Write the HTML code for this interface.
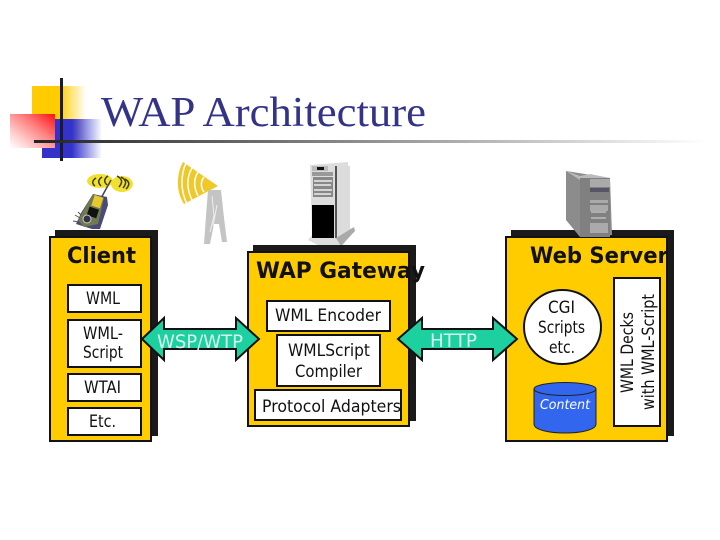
<!DOCTYPE html>
<html><head><meta charset="utf-8"><style>html,body{margin:0;padding:0;background:#fff}svg{display:block}
.t{font-family:"DejaVu Sans",sans-serif;font-size:16.5px;fill:#111;text-anchor:middle}
.b{font-family:"DejaVu Sans",sans-serif;font-weight:bold;font-size:22px;fill:#111;text-anchor:middle}
</style></head><body>
<svg xmlns="http://www.w3.org/2000/svg" width="720" height="540" viewBox="0 0 720 540">
<defs>
<linearGradient id="gy"><stop offset="0.5" stop-color="#ffcc00"/><stop offset="1" stop-color="#ffcc00" stop-opacity="0"/></linearGradient>
<linearGradient id="gb"><stop offset="0.5" stop-color="#3333cc"/><stop offset="1" stop-color="#3333cc" stop-opacity="0"/></linearGradient>
<linearGradient id="gr" x1="1" y1="0" x2="0" y2="1"><stop offset="0" stop-color="#ff1010"/><stop offset="0.4" stop-color="#ff8080"/><stop offset="0.75" stop-color="#ffd0d0"/><stop offset="1" stop-color="#ffffff"/></linearGradient>
<linearGradient id="gl"><stop offset="0" stop-color="#222"/><stop offset="0.15" stop-color="#444"/><stop offset="1" stop-color="#fff"/></linearGradient>
</defs>
<rect width="720" height="540" fill="#fff"/>
<rect x="32" y="86" width="54" height="52" fill="url(#gy)"/>
<rect x="42" y="119" width="60" height="39" fill="url(#gb)"/>
<rect x="10" y="114" width="45" height="34" fill="url(#gr)"/>
<rect x="60" y="78" width="3" height="83" fill="#1a1a2a"/>
<rect x="34" y="140" width="672" height="3" fill="url(#gl)"/>
<text x="101" y="126" font-family="'Liberation Serif',serif" font-size="42" fill="#333388" textLength="325" lengthAdjust="spacingAndGlyphs">WAP Architecture</text>

<!-- phone -->
<ellipse cx="100" cy="181" rx="13" ry="7" fill="#f2e030"/>
<ellipse cx="122" cy="184" rx="11" ry="8" fill="#f2e030"/>
<g fill="none" stroke="#3a3a20" stroke-width="1.500">
<path d="M96 178q-6 4 -1 8M102 177q-6 4 -1 9M108 176q-6 4 -1 9"/>
<path d="M117 176q8 4 2 11M121 177q8 4 2 11M125 179q7 4 1 10"/>
</g>
<line x1="100" y1="200" x2="111" y2="180" stroke="#444" stroke-width="1.500"/>
<path d="M93 194L107 197L108 205L100 229L92 229L76 224L81 213Z" fill="#4a4a78"/>
<path d="M93 194L104 198L98 224L84 227L78 220Z" fill="#6f7a50"/>
<rect x="93" y="196" width="9" height="11" fill="#e8c830" transform="rotate(18 97 201)"/>
<rect x="88" y="208" width="10" height="9" fill="#111" transform="rotate(18 93 212)"/>
<circle cx="87" cy="219" r="4" fill="#334" stroke="#ccc"/>
<path d="M73 221l6 1M75 215l5 3M78 212l3 3" stroke="#555"/>
<!-- tower -->
<path d="M218 186L183 162C176 175 176 192 184 204Z" fill="#efc82a"/>
<g fill="none" stroke="#fff" stroke-width="1.500">
<path d="M186 163C180 176 181 192 187 204M192 168C186 178 187 190 192 200M198 172C193 180 194 188 198 196M204 177C200 182 201 188 204 192"/>
</g>
<path d="M208 190L206 216L204 244H210L214 224L219 224L222 242H227L224 218L221 190Z" fill="#c4c4c4"/>
<path d="M212 196L214 216L210 232M217 205L213 226" stroke="#eee" fill="none"/>
<!-- gateway server -->
<path d="M310 165L348 162L350 228L354 231L342 246L320 246L308 240L312 235Z" fill="#ddd"/>
<rect x="336" y="166" width="14" height="68" fill="#dcdcdc"/>
<rect x="335" y="166" width="2" height="72" fill="#555"/>
<rect x="312" y="205" width="22" height="33" fill="#000"/>
<rect x="312" y="172" width="21" height="4" fill="#999"/>
<rect x="313" y="177" width="20" height="20" fill="#888"/>
<path d="M314 181H332M314 185H331M314 190H332M314 194H331" stroke="#eee" stroke-width="1.500"/>
<rect x="312" y="166" width="16" height="5" fill="#bbb"/><rect x="317" y="167" width="7" height="3" fill="#111"/>
<path d="M336 238L354 227L355 231L341 246Z" fill="#aaa"/>

<!-- client -->
<rect x="55" y="230" width="103" height="206" fill="#1a1a1a"/>
<rect x="50" y="237" width="101" height="204" fill="#ffcc00" stroke="#111" stroke-width="2"/>
<text class="b" x="101.500" y="263" textLength="69" lengthAdjust="spacingAndGlyphs">Client</text>
<g fill="#fff" stroke="#111" stroke-width="2">
<rect x="68" y="285" width="73" height="27"/><rect x="68" y="320" width="73" height="47"/><rect x="68" y="374" width="73" height="27"/><rect x="68" y="408" width="73" height="27"/>
</g>
<text class="t" x="103" y="304" textLength="34" lengthAdjust="spacingAndGlyphs">WML</text>
<text class="t" x="103" y="339" textLength="40" lengthAdjust="spacingAndGlyphs">WML-</text>
<text class="t" x="103" y="358" textLength="40" lengthAdjust="spacingAndGlyphs">Script</text>
<text class="t" x="102.500" y="393" textLength="37" lengthAdjust="spacingAndGlyphs">WTAI</text>
<text class="t" x="102.500" y="427" textLength="27" lengthAdjust="spacingAndGlyphs">Etc.</text>

<!-- gateway -->
<rect x="253" y="245" width="163" height="176" fill="#1a1a1a"/>
<rect x="248" y="252" width="161" height="174" fill="#ffcc00" stroke="#111" stroke-width="2"/>
<text class="b" x="340.500" y="278" textLength="169" lengthAdjust="spacingAndGlyphs">WAP Gateway</text>
<g fill="#fff" stroke="#111" stroke-width="2">
<rect x="267" y="301" width="123" height="30"/><rect x="277" y="335" width="103" height="51"/><rect x="255" y="390" width="146" height="30"/>
</g>
<text class="t" x="328" y="321" textLength="106" lengthAdjust="spacingAndGlyphs">WML Encoder</text>
<text class="t" x="329" y="356" textLength="82" lengthAdjust="spacingAndGlyphs">WMLScript</text>
<text class="t" x="328.500" y="377" textLength="67" lengthAdjust="spacingAndGlyphs">Compiler</text>
<text class="t" x="331.500" y="412" textLength="139" lengthAdjust="spacingAndGlyphs">Protocol Adapters</text>

<!-- server body -->
<rect x="511" y="230" width="163" height="206" fill="#1a1a1a"/>
<rect x="506" y="237" width="161" height="204" fill="#ffcc00" stroke="#111" stroke-width="2"/>
<path d="M566 171L610 178L612 235L580 237L566 220Z" fill="#8c8c8c"/>
<path d="M566 171L580 176L590 174L610 178L580 180Z" fill="#bbb"/>
<rect x="580" y="178" width="30" height="59" fill="#808080"/>
<rect x="590" y="179" width="20" height="8" fill="#aaa"/><rect x="590" y="188" width="19" height="4" fill="#556"/>
<rect x="590" y="200" width="18" height="3" fill="#aaa"/><rect x="590" y="205" width="18" height="6" fill="#aaa"/><rect x="590" y="223" width="18" height="5" fill="#aaa"/><rect x="590" y="228" width="18" height="5" fill="#aaa"/>
<path d="M591 212H606M591 218H606" stroke="#ddd"/>
<text class="b" x="599" y="263" textLength="138" lengthAdjust="spacingAndGlyphs">Web Server</text>
<ellipse cx="562.500" cy="327" rx="38.500" ry="37" fill="#fff" stroke="#111" stroke-width="2"/>
<text class="t" x="561.500" y="313" textLength="27" lengthAdjust="spacingAndGlyphs">CGI</text>
<text class="t" x="561.500" y="333" textLength="47" lengthAdjust="spacingAndGlyphs">Scripts</text>
<text class="t" x="562" y="353" textLength="26" lengthAdjust="spacingAndGlyphs">etc.</text>
<path d="M534 389V424C534 436 596 436 596 424V389Z" fill="#3366ee" stroke="#222"/>
<ellipse cx="565" cy="389" rx="31" ry="6.500" fill="#3366ee" stroke="#222"/>
<text x="565" y="409" font-family="'DejaVu Sans',sans-serif" font-size="13" font-style="italic" fill="#fff" text-anchor="middle" textLength="50" lengthAdjust="spacingAndGlyphs">Content</text>
<rect x="614" y="278" width="46" height="148" fill="#fff" stroke="#111" stroke-width="2"/>
<text class="t" transform="translate(633 352.500) rotate(-90)" textLength="81" lengthAdjust="spacingAndGlyphs">WML Decks</text>
<text class="t" transform="translate(654 352) rotate(-90)" textLength="116" lengthAdjust="spacingAndGlyphs">with WML-Script</text>

<!-- arrows -->
<path d="M142 339L164 318V329H236V318L259 339L236 360V349H164V360Z" fill="#1dd0a0" stroke="#111" stroke-width="2"/>
<text x="200" y="348" font-family="'DejaVu Sans',sans-serif" font-size="19" fill="#d8f5ee" text-anchor="middle" textLength="86" lengthAdjust="spacingAndGlyphs">WSP/WTP</text>
<path d="M398 339L422 318V329H493V318L517 339L493 360V349H422V360Z" fill="#1dd0a0" stroke="#111" stroke-width="2"/>
<text x="453.500" y="347" font-family="'DejaVu Sans',sans-serif" font-size="19" fill="#d8f5ee" text-anchor="middle" textLength="47" lengthAdjust="spacingAndGlyphs">HTTP</text>
</svg>
</body></html>
